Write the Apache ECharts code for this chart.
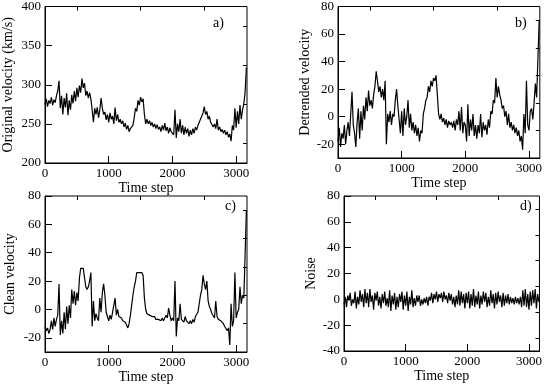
<!DOCTYPE html>
<html>
<head>
<meta charset="utf-8">
<style>
    html, body { margin: 0; padding: 0; background: #fff; }
    #container { width: 545px; height: 386px; }
</style>
</head>
<body>
<div id="container"></div>
<script src="https://cdn.jsdelivr.net/npm/echarts@6/dist/echarts.min.js"></script>
<script>
    // one value every 20 time steps
    var step = 20;
    var xMax = 3170;
    var xTicks = [0, 1000, 2000, 3000];
    var xMinor = [500, 1500, 2500];

    var original = [
        275, 282, 272, 280, 276, 284, 274, 281, 277, 286,
        292, 305, 270, 286, 262, 283, 271, 289, 261, 280,
        268, 287, 276, 292, 279, 296, 284, 299, 290, 308,
        296, 302, 286, 292, 283, 290, 282, 268, 252, 270,
        262, 271, 258, 268, 283, 270, 262, 265, 255, 262,
        252, 264, 256, 260, 250, 271, 254, 262, 252, 256,
        250, 254, 246, 251, 243, 248, 240, 244, 242, 248,
        258, 270, 266, 280, 274, 284, 278, 282, 262, 250,
        256, 250, 254, 248, 252, 246, 250, 244, 249, 243,
        246, 240, 248, 242, 251, 241, 246, 238, 245, 240,
        242, 236, 268, 232, 250, 240, 256, 238, 248, 236,
        246, 238, 244, 234, 242, 236, 244, 238, 246, 242,
        248, 250, 256, 258, 264, 272, 262, 266, 256, 260,
        252, 254, 246, 250, 244, 256, 242, 246, 240, 243,
        238, 242, 236, 240, 233, 237, 228, 248, 242, 270,
        245, 266, 250, 274, 256, 268, 276, 290, 322
    ];
    var detrended = [
        -18, -8, -22, -12, -16, -6, -20, -10, -4, -14,
        2, 18, -6, -12, -22, -4, 6, -16, 4, -10,
        8, -2, 14, 4, 19, 8, 12, 6, 16, 22,
        33, 26, 18, 22, 14, 20, 12, 26, -20, 2,
        -4, 4, -6, 2, 0, 12, 20, 8, -2, -12,
        4, -14, 6, -6, 0, 12, -8, 2, -10, -4,
        -12, -6, -14, -8, -18, -10, -12, 2, 6, 12,
        14, 22, 18, 26, 22, 28, 26, 30, 16, 2,
        -2, 2, -4, -1, -6, -2, -8, -3, -6, -4,
        -8, -3, -10, -2, -6, 4, -10, 7, -12, -4,
        -6, -18, 9, -14, -2, -10, 2, -14, -6, -16,
        -6, -12, 2, -15, -4, -10, -6, -13, -2, -8,
        4, 2, 12, 10, 28, 14, 22, 16, 12, 6,
        8, 0, 4, -6, 2, -8, -4, -10, -6, -12,
        -8, -14, -10, -18, -14, -24, 2, -12, 26, -6,
        -10, 4, 6, -2, 10, 24, 14, 42, 70
    ];
    var clean = [
        -12, -15, -13, -17, -14, -8, -14, -6, -12, -7,
        -4, 18, -18, -8, -17, -2, -14, 2, -10, 3,
        -6, 14, 4, 13, 3, 12, 6, 22, 29, 29,
        29, 28, 16, 14, 16, 20, 26, -12, 6, -8,
        -3, -6, -8, 8, -2, 12, 18, 10, -2, -5,
        -8, -4, -7, -2, -3, 8, -4, 0, -5, -6,
        -6, -8, -7, -9, -10, -13, -10, -4, 3, 10,
        16, 20, 26, 26, 26, 26, 26, 24, 8, 0,
        -3, -4, -4, -5, -5, -6, -5, -7, -6, -7,
        -7, -8, -6, -8, -7, -4, -6, 1, -4, -8,
        -6, -8, 20, -19, -6, -8, 4, -7, -6, -9,
        -5, -8, -7, -10, -8, -10, -7, -9, -5, -6,
        -2, 4, 10, 14, 24, 18, 14, 20, 6, 2,
        0, -3, -4, -6, 6, -5, -7, -6, -8, -9,
        -10, -12, -11, -15, -13, -25, 4, -12, -8, 26,
        -6, -2, 0, 16, 4, 10, 8, 38, 70
    ];
    var noise = [
        -4, 2, -6, 3, -1, 5, -5, 0, -3, 6,
        -7, 2, -4, 7, -2, 4, -6, 8, -3, 5,
        -6, 8, -2, 3, -8, 5, -1, 6, -5, 2,
        -7, 4, -3, 6, -5, 1, -6, 7, -9, 3,
        -4, 5, -8, 2, -6, 4, -2, 6, -8, 3,
        -5, 6, -9, 2, -4, 7, -6, 1, -5, 3,
        -2, 3, -5, 0, -4, 1, -3, 2, -5, 2,
        -1, 5, -3, 4, 0, 6, -2, 4, 1, 5,
        -2, 6, 0, 3, -3, 5, -1, 4, -4, 2,
        -6, 3, -4, 7, -5, 6, -3, 4, -7, 5,
        -3, 6, -7, 4, -5, 8, -6, 3, -4, 6,
        -7, 3, -4, 6, -2, 5, -6, 2, -5, 7,
        -3, 4, -7, 5, -4, 6, -2, 3, -6, 5,
        -5, 3, -3, 4, -4, 2, -3, 1, -4, 2,
        -3, 1, -4, 2, -6, 7, -5, 8, -6, 4,
        -8, 6, -5, 7, -3, 8, -7, 4, -2
    ];

    var yTicksA = [200, 250, 300, 350, 400];
    var yMinorA = [225, 275, 325, 375];
    var yTicksB = [-20, 0, 20, 40, 60, 80];
    var yMinorB = [-10, 10, 30, 50, 70];
    var yTicksD = [-40, -20, 0, 20, 40, 60, 80];
    var yMinorD = [-30, -10, 10, 30, 50, 70];

    var font = 'Liberation Serif';

    var panels = [
        {grid: {left: 45, top: 6, width: 202, height: 157}, data: original, name: 'Original velocity (km/s)',
         min: 200, max: 400, ticks: yTicksA, minor: yMinorA, yGap: 30, xGap: 16, tag: 'a)', tagPos: [213, 16]},
        {grid: {left: 338, top: 5, width: 202, height: 153}, data: detrended, name: 'Detrended velocity',
         min: -30, max: 80, ticks: yTicksB, minor: yMinorB, yGap: 22, xGap: 17, tag: 'b)', tagPos: [515, 16]},
        {grid: {left: 45, top: 196, width: 202, height: 156}, data: clean, name: 'Clean velocity',
         min: -30, max: 80, ticks: yTicksB, minor: yMinorB, yGap: 28, xGap: 18, tag: 'c)', tagPos: [225, 199]},
        {grid: {left: 344, top: 196, width: 196, height: 155}, data: noise, name: 'Noise',
         min: -40, max: 80, ticks: yTicksD, minor: yMinorD, yGap: 23, xGap: 16, tag: 'd)', tagPos: [520, 199]}
    ];

    function pairs(vals) {
        return vals.map(function (v, i) { return [i * step, v]; });
    }

    function axis(gi, min, max, ticks, len, main) {
        return {
            type: 'value', gridIndex: gi, min: min, max: max,
            axisLine: {show: main, onZero: false, lineStyle: {color: '#000', width: 1}},
            axisTick: {show: true, inside: true, length: len, customValues: ticks, lineStyle: {color: '#000'}},
            axisLabel: {
                show: main, customValues: ticks, color: '#000', fontFamily: font, fontSize: 13, margin: 4,
                formatter: function (v) { return String(v); }
            },
            splitLine: {show: false}
        };
    }

    var grids = [], xAxes = [], yAxes = [], series = [], titles = [];
    panels.forEach(function (p, i) {
        grids.push(Object.assign({show: true, borderColor: '#000', borderWidth: 1}, p.grid));

        var xm = axis(i, 0, xMax, xTicks, 7, true);
        xm.name = 'Time step';
        xm.nameLocation = 'middle';
        xm.nameGap = p.xGap;
        xm.nameTextStyle = {color: '#000', fontFamily: font, fontSize: 14, verticalAlign: 'top'};
        xAxes.push(xm);
        xAxes.push(axis(i, 0, xMax, xMinor, 4, false));

        var ym = axis(i, p.min, p.max, p.ticks, 7, true);
        ym.name = p.name;
        ym.nameLocation = 'middle';
        ym.nameGap = p.yGap;
        ym.nameTextStyle = {color: '#000', fontFamily: font, fontSize: 14};
        yAxes.push(ym);
        yAxes.push(axis(i, p.min, p.max, p.minor, 4, false));

        series.push({
            type: 'line', xAxisIndex: i * 2, yAxisIndex: i * 2,
            data: pairs(p.data), showSymbol: false, symbol: 'none',
            lineStyle: {color: '#000', width: 1.2}, sampling: null
        });

        titles.push({
            text: p.tag, left: p.tagPos[0], top: p.tagPos[1], padding: 0,
            textStyle: {color: '#000', fontFamily: font, fontSize: 14, fontWeight: 'normal'}
        });
    });

    var myChart = echarts.init(document.getElementById('container'));
    var option = {
        animation: false,
        backgroundColor: '#fff',
        title: titles,
        grid: grids,
        xAxis: xAxes,
        yAxis: yAxes,
        series: series
    };
    myChart.setOption(option);
</script>
</body>
</html>
